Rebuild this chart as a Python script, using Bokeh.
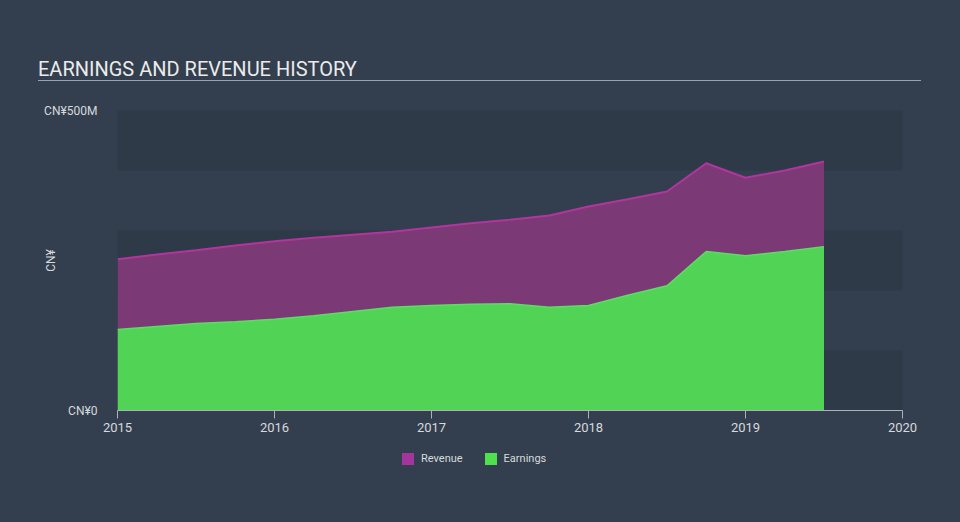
from bokeh.plotting import figure
from bokeh.layouts import column
from bokeh.models import (Range1d, FixedTicker, Legend, LegendItem, Div)
from bokeh.embed import file_html
from bokeh.resources import INLINE

# ---- data (CN¥ millions), quarterly ----
years = [2015.0, 2015.25, 2015.5, 2015.75, 2016.0, 2016.25, 2016.5, 2016.75,
         2017.0, 2017.25, 2017.5, 2017.75, 2018.0, 2018.25, 2018.5, 2018.75,
         2019.0, 2019.25, 2019.5]
revenue = [252, 260, 267, 275, 282, 288, 293, 298, 305, 312, 318, 325,
           340, 352, 365, 412, 388, 400, 415]
earnings = [135, 140, 145, 148, 152, 158, 165, 172, 175, 177, 178, 172,
            175, 192, 208, 265, 258, 265, 273]
band_bottoms = [0, 200, 400]
band_tops = [100, 300, 500]
y_ticks = [0, 500]
y_tick_labels = ["CN¥0", "CN¥500M"]
x_ticks = [2015, 2016, 2017, 2018, 2019, 2020]
series_names = ["Revenue", "Earnings"]
title_text = "EARNINGS AND REVENUE HISTORY"

BG = "#333f4e"
BAND = "#2e3a48"
TEXT = "#d6d9dd"
FONT = "Roboto"
TITLE_H = 90
MAIN_H = 350
LEG_H = 120

title = Div(
    text=(f'<div style="margin:58px 0 0 38px; width:883px; height:23px; '
          f'line-height:22px; font-family:Roboto; font-size:20px; color:#ebebeb; '
          f'border-bottom:1.5px solid #9aa3ad; white-space:nowrap;">{title_text}</div>'),
    width=960, height=TITLE_H, margin=0,
    styles={"background-color": BG, "overflow": "hidden"})

p = figure(width=960, height=MAIN_H, output_backend="svg",
           toolbar_location=None, margin=0,
           x_range=Range1d(2015, 2020), y_range=Range1d(0, 500),
           min_border_left=117, min_border_right=58, min_border_top=110 - TITLE_H,
           min_border_bottom=MAIN_H - 300 - (110 - TITLE_H))
p.background_fill_color = BG
p.border_fill_color = BG
p.outline_line_color = None
p.grid.visible = False

# alternating bands
p.quad(left=2015, right=2020, bottom=band_bottoms, top=band_tops,
       fill_color=BAND, line_color=None)

p.varea(x=years, y1=0, y2=revenue, fill_color="#7b3a75")
p.line(x=years, y=revenue, line_color="#b0369e", line_width=2)
p.varea(x=years, y1=0, y2=earnings, fill_color="#51d456")
p.line(x=years, y=earnings, line_color="#5ade62", line_width=1.5)

# x axis
xa = p.xaxis[0]
xa.ticker = FixedTicker(ticks=x_ticks)
xa.axis_line_color = "#aab2bb"
xa.major_tick_line_color = "#aab2bb"
xa.major_tick_out = 8
xa.major_tick_in = 0
xa.minor_tick_line_color = None
xa.major_label_text_color = TEXT
xa.major_label_text_font = FONT
xa.major_label_text_font_size = "13px"
xa.major_label_standoff = 4

# y axis
ya = p.yaxis[0]
ya.ticker = FixedTicker(ticks=y_ticks)
ya.major_label_overrides = {t: s for t, s in zip(y_ticks, y_tick_labels)}
ya.axis_line_color = None
ya.major_tick_line_color = None
ya.minor_tick_line_color = None
ya.major_label_standoff = 14
ya.major_label_text_color = TEXT
ya.major_label_text_font = FONT
ya.major_label_text_font_size = "12px"
ya.axis_label = "CN¥"
ya.axis_label_standoff = -17
ya.axis_label_text_color = TEXT
ya.axis_label_text_font = FONT
ya.axis_label_text_font_size = "12px"
ya.axis_label_text_font_style = "normal"

# legend strip (separate figure so the legend is not clipped); its key
# renderers reuse the series data but lie outside this strip's ranges
lg = figure(width=960, height=LEG_H, output_backend="svg", toolbar_location=None,
            margin=0, min_border=0, x_axis_type=None, y_axis_type=None,
            x_range=Range1d(0, 1), y_range=Range1d(0, 1))
lg.grid.visible = False
lg.outline_line_color = None
lg.background_fill_color = BG
lg.border_fill_color = BG
rev_key = lg.varea(x=years, y1=0, y2=revenue, fill_color="#a4359c")
earn_key = lg.varea(x=years, y1=0, y2=earnings, fill_color="#4fe04f")
legend = Legend(items=[LegendItem(label=series_names[0], renderers=[rev_key]),
                       LegendItem(label=series_names[1], renderers=[earn_key])],
                orientation="horizontal", location=(283, 94),
                margin=0, padding=0,
                background_fill_alpha=0, border_line_color=None,
                label_text_color=TEXT, label_text_font=FONT,
                label_text_font_size="11px", glyph_width=15, glyph_height=15,
                spacing=20, label_standoff=6)
lg.add_layout(legend)

layout = column(title, p, lg, spacing=0, margin=0,
                styles={"background-color": BG})
open("out.html", "w").write(file_html(layout, INLINE))
